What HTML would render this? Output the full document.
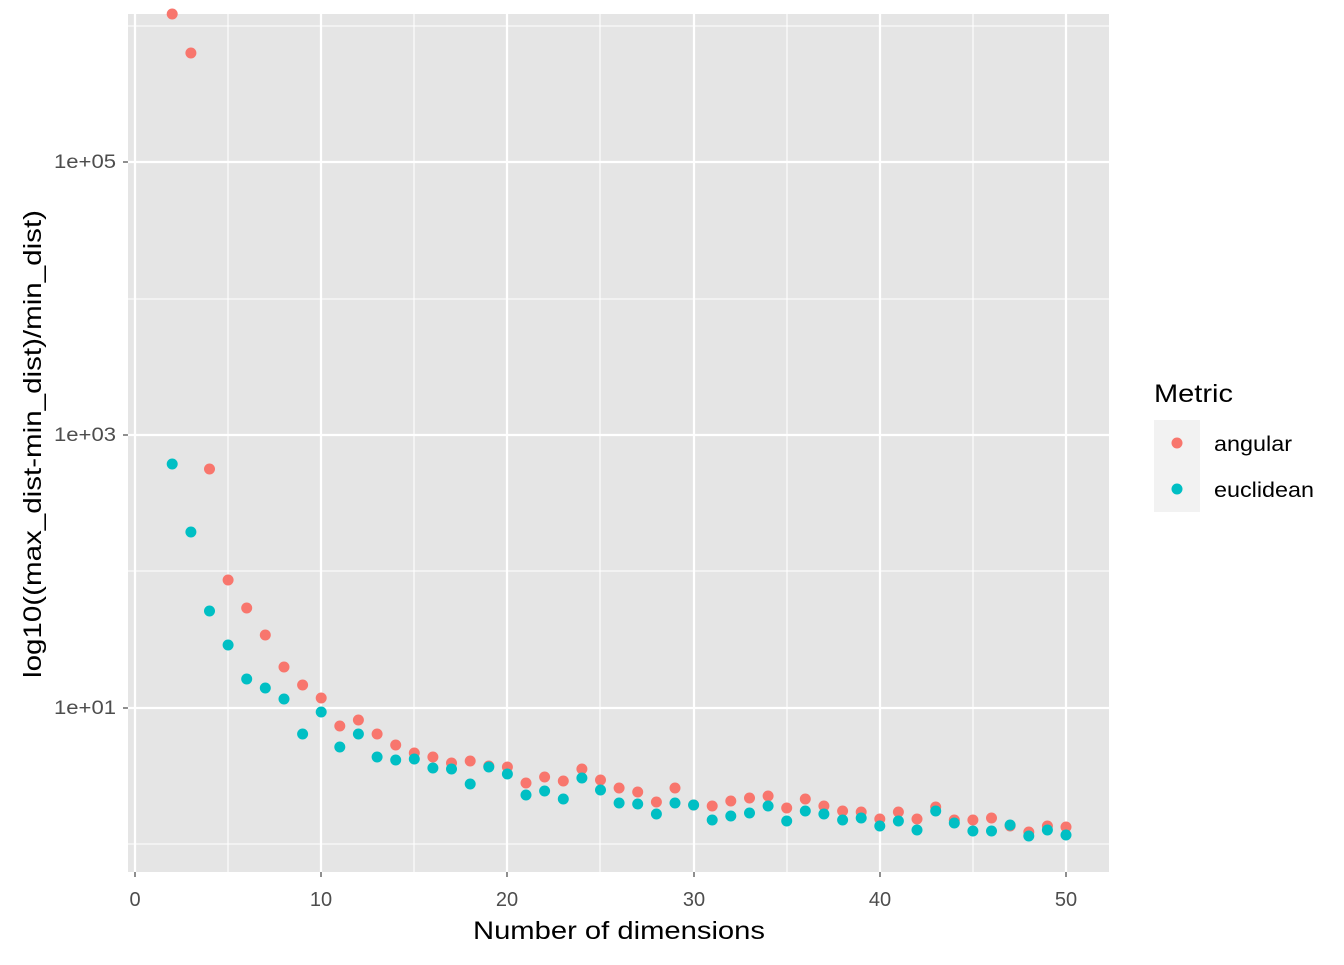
<!DOCTYPE html>
<html><head><meta charset="utf-8"><style>body{margin:0;background:#fff}</style></head><body>
<svg width="1344" height="960" xmlns="http://www.w3.org/2000/svg" font-family="Liberation Sans, Arial, sans-serif">
<rect x="0" y="0" width="1344" height="960" fill="#fff"/>
<rect x="128" y="14" width="981" height="858" fill="#E5E5E5"/>
<g stroke="#fff" stroke-width="1.1">
<line x1="128" x2="1109" y1="26" y2="26"/><line x1="128" x2="1109" y1="299" y2="299"/><line x1="128" x2="1109" y1="571" y2="571"/><line x1="128" x2="1109" y1="844" y2="844"/>
<line y1="14" y2="872" x1="228" x2="228"/><line y1="14" y2="872" x1="414" x2="414"/><line y1="14" y2="872" x1="600" x2="600"/><line y1="14" y2="872" x1="787" x2="787"/><line y1="14" y2="872" x1="973" x2="973"/>
</g>
<g stroke="#fff" stroke-width="2.2">
<line x1="128" x2="1109" y1="162" y2="162"/><line x1="128" x2="1109" y1="435" y2="435"/><line x1="128" x2="1109" y1="708" y2="708"/>
<line y1="14" y2="872" x1="135" x2="135"/><line y1="14" y2="872" x1="321" x2="321"/><line y1="14" y2="872" x1="507" x2="507"/><line y1="14" y2="872" x1="694" x2="694"/><line y1="14" y2="872" x1="880" x2="880"/><line y1="14" y2="872" x1="1066" x2="1066"/>
</g>
<g fill="#F8766D">
<circle cx="172.2" cy="14" r="5.5"/><circle cx="190.9" cy="53" r="5.5"/><circle cx="209.5" cy="469" r="5.5"/><circle cx="228.1" cy="580" r="5.5"/><circle cx="246.7" cy="608" r="5.5"/><circle cx="265.3" cy="635" r="5.5"/><circle cx="284" cy="667" r="5.5"/><circle cx="302.6" cy="685" r="5.5"/><circle cx="321.2" cy="698" r="5.5"/><circle cx="339.8" cy="726" r="5.5"/><circle cx="358.4" cy="720" r="5.5"/><circle cx="377.1" cy="734" r="5.5"/><circle cx="395.7" cy="745" r="5.5"/><circle cx="414.3" cy="753" r="5.5"/><circle cx="432.9" cy="757" r="5.5"/><circle cx="451.5" cy="763" r="5.5"/><circle cx="470.2" cy="761" r="5.5"/><circle cx="488.8" cy="766" r="5.5"/><circle cx="507.4" cy="767" r="5.5"/><circle cx="526" cy="783" r="5.5"/><circle cx="544.6" cy="777" r="5.5"/><circle cx="563.3" cy="781" r="5.5"/><circle cx="581.9" cy="769" r="5.5"/><circle cx="600.5" cy="780" r="5.5"/><circle cx="619.1" cy="788" r="5.5"/><circle cx="637.7" cy="792" r="5.5"/><circle cx="656.4" cy="802" r="5.5"/><circle cx="675" cy="788" r="5.5"/><circle cx="693.6" cy="805" r="5.5"/><circle cx="712.2" cy="806" r="5.5"/><circle cx="730.8" cy="801" r="5.5"/><circle cx="749.5" cy="798" r="5.5"/><circle cx="768.1" cy="796" r="5.5"/><circle cx="786.7" cy="808" r="5.5"/><circle cx="805.3" cy="799" r="5.5"/><circle cx="823.9" cy="806" r="5.5"/><circle cx="842.6" cy="811" r="5.5"/><circle cx="861.2" cy="812" r="5.5"/><circle cx="879.8" cy="819" r="5.5"/><circle cx="898.4" cy="812" r="5.5"/><circle cx="917" cy="819" r="5.5"/><circle cx="935.7" cy="807" r="5.5"/><circle cx="954.3" cy="820" r="5.5"/><circle cx="972.9" cy="820" r="5.5"/><circle cx="991.5" cy="818" r="5.5"/><circle cx="1010.1" cy="826" r="5.5"/><circle cx="1028.8" cy="832" r="5.5"/><circle cx="1047.4" cy="826" r="5.5"/><circle cx="1066" cy="827" r="5.5"/>
</g>
<g fill="#00BFC4">
<circle cx="172.2" cy="464" r="5.5"/><circle cx="190.9" cy="532" r="5.5"/><circle cx="209.5" cy="611" r="5.5"/><circle cx="228.1" cy="645" r="5.5"/><circle cx="246.7" cy="679" r="5.5"/><circle cx="265.3" cy="688" r="5.5"/><circle cx="284" cy="699" r="5.5"/><circle cx="302.6" cy="734" r="5.5"/><circle cx="321.2" cy="712" r="5.5"/><circle cx="339.8" cy="747" r="5.5"/><circle cx="358.4" cy="734" r="5.5"/><circle cx="377.1" cy="757" r="5.5"/><circle cx="395.7" cy="760" r="5.5"/><circle cx="414.3" cy="759" r="5.5"/><circle cx="432.9" cy="768" r="5.5"/><circle cx="451.5" cy="769" r="5.5"/><circle cx="470.2" cy="784" r="5.5"/><circle cx="488.8" cy="767" r="5.5"/><circle cx="507.4" cy="774" r="5.5"/><circle cx="526" cy="795" r="5.5"/><circle cx="544.6" cy="791" r="5.5"/><circle cx="563.3" cy="799" r="5.5"/><circle cx="581.9" cy="778" r="5.5"/><circle cx="600.5" cy="790" r="5.5"/><circle cx="619.1" cy="803" r="5.5"/><circle cx="637.7" cy="804" r="5.5"/><circle cx="656.4" cy="814" r="5.5"/><circle cx="675" cy="803" r="5.5"/><circle cx="693.6" cy="805" r="5.5"/><circle cx="712.2" cy="820" r="5.5"/><circle cx="730.8" cy="816" r="5.5"/><circle cx="749.5" cy="813" r="5.5"/><circle cx="768.1" cy="806" r="5.5"/><circle cx="786.7" cy="821" r="5.5"/><circle cx="805.3" cy="811" r="5.5"/><circle cx="823.9" cy="814" r="5.5"/><circle cx="842.6" cy="820" r="5.5"/><circle cx="861.2" cy="818" r="5.5"/><circle cx="879.8" cy="826" r="5.5"/><circle cx="898.4" cy="821" r="5.5"/><circle cx="917" cy="830" r="5.5"/><circle cx="935.7" cy="811" r="5.5"/><circle cx="954.3" cy="823" r="5.5"/><circle cx="972.9" cy="831" r="5.5"/><circle cx="991.5" cy="831" r="5.5"/><circle cx="1010.1" cy="825" r="5.5"/><circle cx="1028.8" cy="836" r="5.5"/><circle cx="1047.4" cy="830" r="5.5"/><circle cx="1066" cy="835" r="5.5"/>
</g>
<g stroke="#333" stroke-width="1.1">
<line x1="123" x2="128" y1="162" y2="162"/><line x1="123" x2="128" y1="435" y2="435"/><line x1="123" x2="128" y1="708" y2="708"/>
<line y1="872" y2="877" x1="135" x2="135"/><line y1="872" y2="877" x1="321" x2="321"/><line y1="872" y2="877" x1="507" x2="507"/><line y1="872" y2="877" x1="694" x2="694"/><line y1="872" y2="877" x1="880" x2="880"/><line y1="872" y2="877" x1="1066" x2="1066"/>
</g>
<g fill="#4D4D4D" font-size="19" text-anchor="end">
<text x="116" y="168" textLength="62" lengthAdjust="spacingAndGlyphs">1e+05</text><text x="116" y="441" textLength="62" lengthAdjust="spacingAndGlyphs">1e+03</text><text x="116" y="714" textLength="62" lengthAdjust="spacingAndGlyphs">1e+01</text>
</g>
<g fill="#4D4D4D" font-size="20" text-anchor="middle">
<text x="135" y="906">0</text><text x="321" y="906">10</text><text x="507" y="906">20</text><text x="694" y="906">30</text><text x="880" y="906">40</text><text x="1066" y="906">50</text>
</g>
<text x="473" y="939" font-size="25" textLength="292" lengthAdjust="spacingAndGlyphs" fill="#000">Number of dimensions</text>
<text transform="translate(41,678) rotate(-90)" font-size="25" textLength="468" lengthAdjust="spacingAndGlyphs" fill="#000">log10((max_dist-min_dist)/min_dist)</text>
<text x="1154" y="402" font-size="25" textLength="79" lengthAdjust="spacingAndGlyphs" fill="#000">Metric</text>
<rect x="1154" y="420" width="46" height="92" fill="#F2F2F2"/>
<circle cx="1177" cy="443" r="5.5" fill="#F8766D"/>
<circle cx="1177" cy="489" r="5.5" fill="#00BFC4"/>
<text x="1214" y="451" font-size="21" textLength="78" lengthAdjust="spacingAndGlyphs" fill="#000">angular</text>
<text x="1214" y="497" font-size="21" textLength="100" lengthAdjust="spacingAndGlyphs" fill="#000">euclidean</text>
</svg>
</body></html>
